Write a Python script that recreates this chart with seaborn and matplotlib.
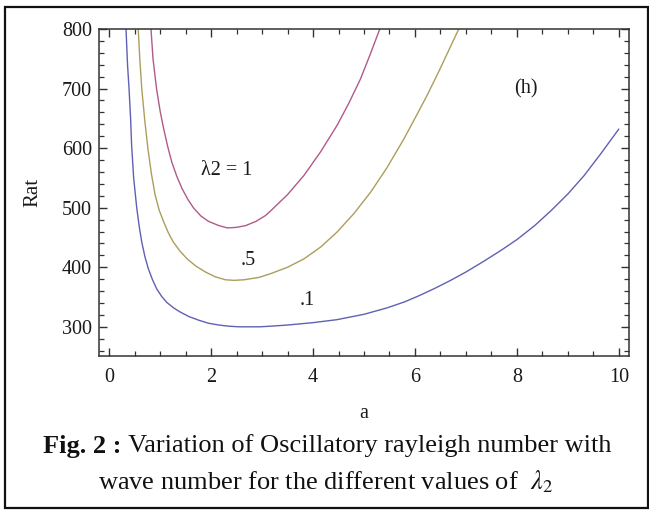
import matplotlib
matplotlib.use("Agg")
import matplotlib.pyplot as plt
import seaborn as sns
import pandas as pd
from matplotlib.ticker import MultipleLocator
from matplotlib.patches import Rectangle

# Data
a_01 = [0.33, 0.36, 0.39, 0.42, 0.44, 0.48, 0.54, 0.59, 0.64, 0.70, 0.77, 0.85, 0.93, 1.03, 1.13, 1.26,
        1.39, 1.57, 1.76, 1.95, 2.15, 2.35, 2.55, 2.75, 2.95, 3.16, 3.5, 4.0, 4.47, 5.0, 5.46, 5.8, 6.1,
        6.4, 6.70, 7.0, 7.35, 7.7, 8.01, 8.35, 8.67, 9.0, 9.32, 9.65, 10.0]
rat_01 = [800, 740, 699, 650, 605, 550, 500, 468, 442, 418, 397, 379, 364, 351, 341, 332,
          325, 317, 311, 306, 303, 301, 300, 300, 300, 301, 303, 307, 312, 321, 332, 342, 353,
          365, 378, 392, 410, 429, 447, 470, 495, 523, 554, 591, 632]

a_05 = [0.57, 0.60, 0.64, 0.70, 0.76, 0.83, 0.90, 0.98, 1.07, 1.16, 1.26, 1.39, 1.53, 1.70, 1.89,
        2.08, 2.28, 2.45, 2.65, 2.94, 3.16, 3.5, 3.82, 4.15, 4.47, 4.8, 5.13, 5.45, 5.78, 6.0,
        6.24, 6.47, 6.70, 6.86]
rat_05 = [800, 750, 699, 645, 599, 556, 522, 496, 476, 458, 442, 427, 414, 402, 392,
          384, 379, 378, 379, 383, 389, 400, 414, 434, 459, 490, 526, 567, 615, 650,
          689, 729, 771, 800]

a_1 = [0.82, 0.86, 0.93, 1.0, 1.07, 1.15, 1.23, 1.33, 1.43, 1.55, 1.66, 1.80, 1.95, 2.15, 2.32,
       2.5, 2.68, 2.88, 3.07, 3.16, 3.5, 3.82, 4.15, 4.47, 4.7, 4.93, 5.12, 5.31]
rat_1 = [800, 750, 699, 662, 632, 602, 576, 552, 532, 513, 499, 486, 477, 470, 466,
         467, 470, 477, 487, 494, 522, 554, 594, 638, 675, 716, 757, 800]

labels = ["λ2 = 1", ".5", ".1"]
label_pos = [(2.3, 562), (2.73, 411), (3.89, 344)]
x_ticks = [0, 2, 4, 6, 8, 10]
y_ticks = [300, 400, 500, 600, 700, 800]

df = pd.concat([
    pd.DataFrame({"a": a_01, "Rat": rat_01, "lam": "0.1"}),
    pd.DataFrame({"a": a_05, "Rat": rat_05, "lam": "0.5"}),
    pd.DataFrame({"a": a_1, "Rat": rat_1, "lam": "1"}),
], ignore_index=True)

sns.set_style("ticks")
plt.rcParams["font.family"] = ["Liberation Serif", "DejaVu Serif"]

fig = plt.figure(figsize=(6.49, 5.11), dpi=100)
ax = fig.add_axes([99/649, 1-356/511, 530/649, 327/511])

palette = {"0.1": "#6060b4", "0.5": "#ab9e5c", "1": "#b05a88"}
sns.lineplot(data=df, x="a", y="Rat", hue="lam", palette=palette, sort=False,
             estimator=None, linewidth=1.0, legend=False, ax=ax)

ax.set_xlim(-0.2, 10.2)
ax.set_ylim(251, 800)
ax.set_xticks(x_ticks)
ax.set_yticks(y_ticks)
ax.xaxis.set_minor_locator(MultipleLocator(0.5))
ax.yaxis.set_minor_locator(MultipleLocator(20))
ax.tick_params(which="both", direction="in", top=True, right=True, colors="#333333",
               labelcolor="#1a1a1a", labelsize=14.5)
ax.tick_params(axis="x", which="major", pad=9)
ax.tick_params(axis="y", which="major", pad=5)
ax.tick_params(which="major", length=6, width=1)
ax.tick_params(which="minor", length=3.5, width=0.9)
for s in ax.spines.values():
    s.set_color("#333333")
    s.set_linewidth(1.1)
ax.set_xlabel("a", fontsize=14.5, color="#1a1a1a", labelpad=12)
ax.set_ylabel("Rat", fontsize=15, color="#1a1a1a", labelpad=14)

for txt, (x, y) in zip(labels, label_pos):
    ax.text(x, y, txt, fontsize=14.5, ha="center", va="center", color="#1a1a1a")
ax.text(8.17, 699, "(h)", fontsize=14.5, ha="center", va="center", color="#1a1a1a")

# Caption
cap_fs = 19
cap_y1 = 1-446/511
cap_y2 = 1-482/511
t1 = fig.text(0, cap_y1, "Fig. 2 :", fontsize=cap_fs, fontweight="bold", ha="left",
              va="center", color="#111111")
t2 = fig.text(0, cap_y1, " Variation of Oscillatory rayleigh number with", fontsize=cap_fs,
              ha="left", va="center", color="#111111")
fig.canvas.draw()
r = fig.canvas.get_renderer()
w1 = t1.get_window_extent(r).width
w2 = t2.get_window_extent(r).width
start = 327 - (w1 + w2) / 2
t1.set_x(start / 649)
t2.set_x((start + w1) / 649)
fig.text(326/649, cap_y2, r"wave number for the different values of  $\lambda_{2}$", fontsize=cap_fs,
         ha="center", va="center", color="#111111", math_fontfamily="stix")

# Outer frame
fig.patches.append(Rectangle((5/649, 1-508/511), 643/649, 501/511, transform=fig.transFigure,
                             fill=False, edgecolor="#111111", linewidth=1.6))

fig.savefig("out.png", dpi=100)
